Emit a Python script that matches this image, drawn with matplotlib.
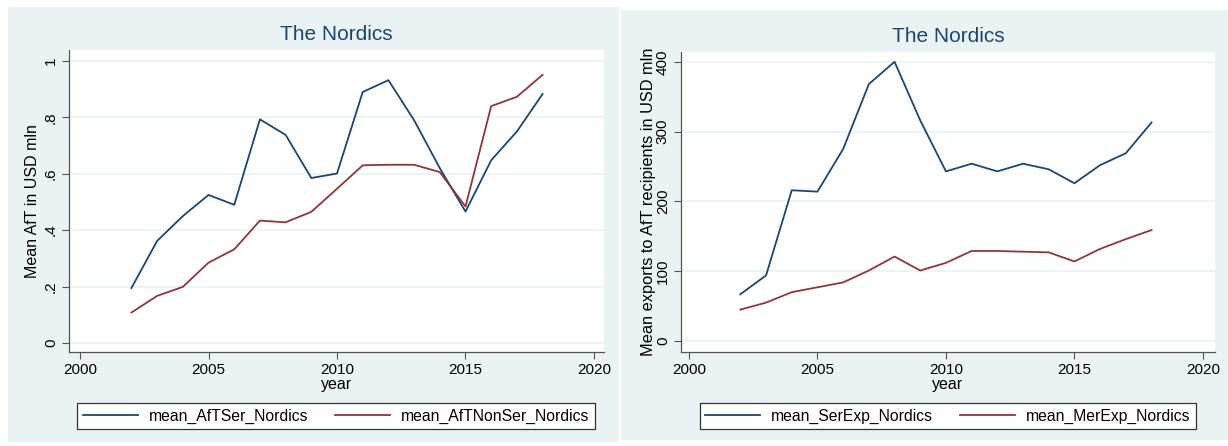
import matplotlib.pyplot as plt
from matplotlib.patches import Rectangle

# data
years = list(range(2002, 2019))
aft_ser = [0.195, 0.362, 0.450, 0.525, 0.490, 0.793, 0.738, 0.585, 0.601,
           0.890, 0.932, 0.790, 0.620, 0.466, 0.648, 0.750, 0.883]
aft_nonser = [0.108, 0.167, 0.199, 0.285, 0.332, 0.434, 0.428, 0.465, 0.547,
              0.630, 0.632, 0.632, 0.606, 0.484, 0.840, 0.873, 0.951]
ser_exp = [67, 94, 216, 214, 275, 368, 400, 316, 243,
           254, 243, 254, 246, 226, 252, 269, 313]
mer_exp = [45, 55, 70, 77, 84, 101, 121, 101, 112,
           129, 129, 128, 127, 114, 132, 146, 159]

xticks = [2000, 2005, 2010, 2015, 2020]
left_yticks = [0, 0.2, 0.4, 0.6, 0.8, 1.0]
left_ylabels = ["0", ".2", ".4", ".6", ".8", "1"]
right_yticks = [0, 100, 200, 300, 400]

BG = "#eaf2f3"
NAVY = "#1a476f"
MAROON = "#90353b"
W, H = 1228, 446

plt.rcParams["font.family"] = ["Liberation Sans", "DejaVu Sans"]

fig = plt.figure(figsize=(W / 100, H / 100), dpi=100)
fig.patch.set_facecolor("white")


def px_box(x0, y0, x1, y1):
    # pixel box (top-left origin) -> figure fraction rect
    return [x0 / W, 1 - y1 / H, (x1 - x0) / W, (y1 - y0) / H]


def panel(bg_box, ax_box, xlim, ylim, s1, s2, names, yticks, ylabels,
          ylabel, ylabel_size, ylabel_pad, leg_center):
    b = px_box(*bg_box)
    fig.patches.append(Rectangle((b[0], b[1]), b[2], b[3],
                                 transform=fig.transFigure,
                                 facecolor=BG, edgecolor="none", zorder=-5))
    ax = fig.add_axes(px_box(*ax_box))
    ax.set_facecolor("white")
    ax.plot(years, s1, color=NAVY, lw=1.3, label=names[0])
    ax.plot(years, s2, color=MAROON, lw=1.3, label=names[1])
    ax.set_xlim(*xlim)
    ax.set_ylim(*ylim)
    ax.set_xticks(xticks)
    ax.set_yticks(yticks)
    ax.set_yticklabels(ylabels, rotation=90, va="center")
    ax.tick_params(labelsize=11, length=5, width=0.8, color="#555555",
                   pad=3)
    ax.grid(axis="y", color=BG, lw=1.2)
    ax.set_axisbelow(True)
    for side in ["top", "right"]:
        ax.spines[side].set_visible(False)
    for side in ["left", "bottom"]:
        ax.spines[side].set_color("#555555")
        ax.spines[side].set_linewidth(0.9)
    ax.set_title("The Nordics", color=NAVY, fontsize=15, pad=7)
    ax.set_xlabel("year", fontsize=11.5, labelpad=0)
    ax.set_ylabel(ylabel, fontsize=ylabel_size, labelpad=ylabel_pad)
    cx, cy = leg_center
    leg = ax.legend(loc="center", ncol=2, bbox_to_anchor=(cx / W, 1 - cy / H),
                    bbox_transform=fig.transFigure,
                    fontsize=11.3, frameon=True, fancybox=False,
                    handlelength=3.5, columnspacing=1.7,
                    borderpad=0.35, handletextpad=0.7, borderaxespad=0)
    leg.get_frame().set_edgecolor("#333333")
    leg.get_frame().set_linewidth(0.9)
    leg.get_frame().set_facecolor("white")
    leg.get_frame().set_alpha(1)
    return ax


panel((8, 7, 619, 442), (69, 50, 604, 352), (1999.57, 2020.39),
      (-0.032, 1.039), aft_ser, aft_nonser,
      ["mean_AfTSer_Nordics", "mean_AfTNonSer_Nordics"],
      left_yticks, left_ylabels, "Mean AfT in USD mln", 11.5, 3,
      (336, 416))

panel((621, 10, 1228, 440), (681, 52, 1215, 352), (1999.69, 2020.47),
      (-15.7, 414), ser_exp, mer_exp,
      ["mean_SerExp_Nordics", "mean_MerExp_Nordics"],
      right_yticks, [str(v) for v in right_yticks],
      "Mean exports to AfT recipients in USD mln", 11.8, 0,
      (948, 416))

fig.savefig("out.png", dpi=100, facecolor=fig.get_facecolor())
